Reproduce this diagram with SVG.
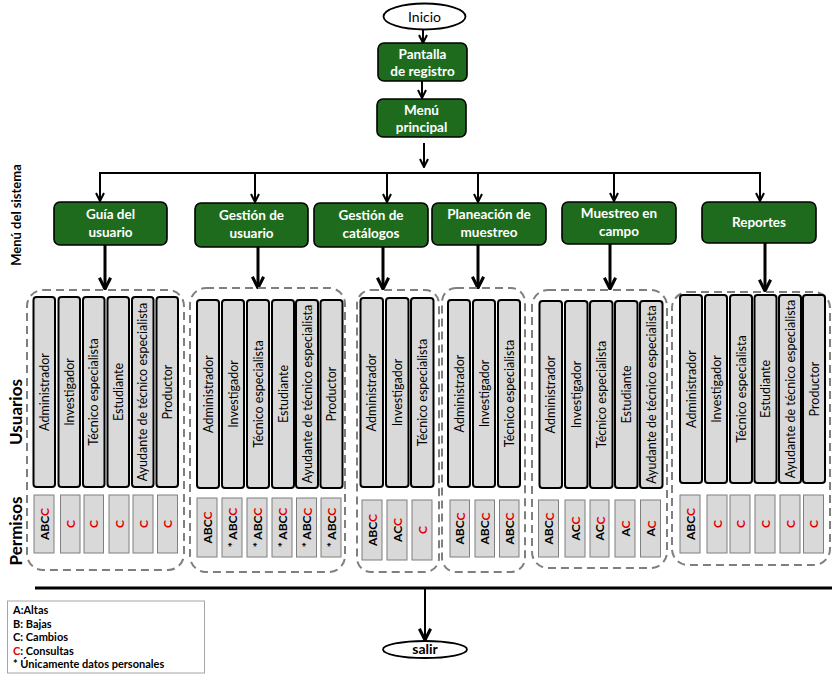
<svg xmlns="http://www.w3.org/2000/svg" width="835" height="680" viewBox="0 0 835 680">
<style>
.bg{fill:#ffffff}
.node rect{fill:#1e6b1e;stroke:#000;stroke-width:1.6}
.nt{font-family:Lato,"Liberation Sans",sans-serif;font-weight:bold;font-size:13.5px;fill:#ffffff;text-anchor:middle}
.term{fill:#fff;stroke:#000;stroke-width:1.8}
.tt{font-family:Lato,"Liberation Sans",sans-serif;font-size:14px;fill:#000;text-anchor:middle}
.grp{fill:none;stroke:#7f7f7f;stroke-width:2;stroke-dasharray:8 5}
.col{fill:#d9d9d9;stroke:#000;stroke-width:2}
.ct{font-family:Lato,"Liberation Sans",sans-serif;font-size:12.5px;fill:#000;text-anchor:middle;dominant-baseline:central}
.perm{fill:#d9d9d9;stroke:#7f7f7f;stroke-width:1}
.pt{font-family:Lato,"Liberation Sans",sans-serif;font-weight:bold;font-size:12px;fill:#000;text-anchor:middle;dominant-baseline:central}
.r{fill:#e00000}
.side{font-family:Lato,"Liberation Sans",sans-serif;font-weight:bold;fill:#000;text-anchor:middle;dominant-baseline:central}
.thin{fill:none;stroke:#000;stroke-width:2}
.thick{fill:none;stroke:#000;stroke-width:3}
.leg{font-family:Lato,"Liberation Sans",sans-serif;font-weight:bold;font-size:11px;fill:#000}
</style>
<defs>
<marker id="ah" viewBox="0 0 10 10" refX="9" refY="5" markerWidth="10" markerHeight="10" markerUnits="userSpaceOnUse" orient="auto">
<path d="M1,1 L9,5 L1,9" fill="none" stroke="#000" stroke-width="2"/>
</marker>
<marker id="ahb" viewBox="0 0 10 10" refX="9" refY="5" markerWidth="14" markerHeight="14" markerUnits="userSpaceOnUse" orient="auto">
<path d="M1,1 L9,5 L1,9" fill="none" stroke="#000" stroke-width="2.2"/>
</marker>
</defs>
<rect class="bg" x="0" y="0" width="835" height="680"/>

<g id="connectors">
<line class="thin" x1="423" y1="30" x2="423" y2="43" marker-end="url(#ah)"/>
<line class="thin" x1="422" y1="81" x2="422" y2="98" marker-end="url(#ah)"/>
<line class="thin" x1="424" y1="143" x2="424" y2="167" marker-end="url(#ah)"/>
<polyline class="thin" points="100,201 100,173 760,173 760,201" marker-end="url(#ah)"/>
<line class="thin" x1="100" y1="173" x2="100" y2="201" marker-end="url(#ah)"/>
<line class="thin" x1="255" y1="173" x2="255" y2="202" marker-end="url(#ah)"/>
<line class="thin" x1="387" y1="173" x2="387" y2="202" marker-end="url(#ah)"/>
<line class="thin" x1="478" y1="173" x2="478" y2="202" marker-end="url(#ah)"/>
<line class="thin" x1="614" y1="173" x2="614" y2="201" marker-end="url(#ah)"/>
<line class="thick" x1="105" y1="245" x2="105" y2="289" marker-end="url(#ahb)"/>
<line class="thick" x1="258" y1="247" x2="258" y2="288" marker-end="url(#ahb)"/>
<line class="thick" x1="383" y1="247" x2="383" y2="289" marker-end="url(#ahb)"/>
<line class="thick" x1="478" y1="245" x2="478" y2="288" marker-end="url(#ahb)"/>
<line class="thick" x1="610" y1="244" x2="610" y2="289" marker-end="url(#ahb)"/>
<line class="thick" x1="765" y1="243" x2="765" y2="291" marker-end="url(#ahb)"/>
<line class="thick" x1="35" y1="588" x2="832" y2="588"/>
<line class="thin" x1="425" y1="588" x2="425" y2="640" marker-end="url(#ahb)"/>
</g>

<g id="inicio">
<ellipse class="term" cx="424.5" cy="16.5" rx="41" ry="13"/>
<text class="tt" x="424.5" y="21.5">Inicio</text>
</g>
<g id="pantalla" class="node">
<rect x="378" y="43" width="89" height="38" rx="6"/>
<text class="nt" x="422.5" y="58.5">Pantalla</text>
<text class="nt" x="422.5" y="75.5">de registro</text>
</g>
<g id="menu" class="node">
<rect x="377" y="99" width="89" height="38" rx="6"/>
<text class="nt" x="421.5" y="114.5">Menú</text>
<text class="nt" x="421.5" y="131.5">principal</text>
</g>

<g id="guia" class="node">
<rect x="54" y="202" width="113" height="43" rx="6"/>
<text class="nt" x="110.5" y="219">Guía del</text>
<text class="nt" x="110.5" y="237">usuario</text>
</g>
<g id="gestion-usuario" class="node">
<rect x="195" y="203" width="113" height="44" rx="6"/>
<text class="nt" x="251.5" y="220">Gestión de</text>
<text class="nt" x="251.5" y="238">usuario</text>
</g>
<g id="gestion-catalogos" class="node">
<rect x="314" y="203" width="114" height="44" rx="6"/>
<text class="nt" x="371" y="220">Gestión de</text>
<text class="nt" x="371" y="238">catálogos</text>
</g>
<g id="planeacion" class="node">
<rect x="432" y="203" width="114" height="42" rx="6"/>
<text class="nt" x="489" y="219">Planeación de</text>
<text class="nt" x="489" y="237">muestreo</text>
</g>
<g id="muestreo" class="node">
<rect x="562" y="202" width="114" height="42" rx="6"/>
<text class="nt" x="619" y="218">Muestreo en</text>
<text class="nt" x="619" y="236">campo</text>
</g>
<g id="reportes" class="node">
<rect x="702" y="202" width="114" height="41" rx="6"/>
<text class="nt" x="759" y="227">Reportes</text>
</g>

<g id="labels">
<text class="side" font-size="13" transform="translate(16,215) rotate(-90)">Menú del sistema</text>
<text class="side" font-size="17" transform="translate(15,412) rotate(-90)">Usuarios</text>
<text class="side" font-size="17" transform="translate(15,531) rotate(-90)">Permisos</text>
</g>

<g id="grupo-guia">
<rect class="grp" x="27" y="290" width="157" height="280" rx="16"/>
<rect class="col" x="33.5" y="297" width="21.5" height="190" rx="3"/>
<rect class="col" x="58.5" y="297" width="21.5" height="190" rx="3"/>
<rect class="col" x="83" y="297" width="21.5" height="190" rx="3"/>
<rect class="col" x="107.5" y="297" width="21.5" height="190" rx="3"/>
<rect class="col" x="132" y="297" width="21.5" height="190" rx="3"/>
<rect class="col" x="156.5" y="297" width="21.5" height="190" rx="3"/>
<text class="ct" transform="translate(44.25,392) rotate(-90)">Administrador</text>
<text class="ct" transform="translate(69.25,392) rotate(-90)">Investigador</text>
<text class="ct" transform="translate(93.75,392) rotate(-90)">Técnico especialista</text>
<text class="ct" transform="translate(118.25,392) rotate(-90)">Estudiante</text>
<text class="ct" transform="translate(142.75,392) rotate(-90)">Ayudante de técnico especialista</text>
<text class="ct" transform="translate(167.25,392) rotate(-90)">Productor</text>
<rect class="perm" x="34" y="495" width="20" height="58"/>
<rect class="perm" x="60.5" y="495" width="19.5" height="58"/>
<rect class="perm" x="84" y="495" width="19.5" height="58"/>
<rect class="perm" x="109" y="495" width="20" height="58"/>
<rect class="perm" x="133" y="495" width="20" height="58"/>
<rect class="perm" x="157.5" y="495" width="20" height="58"/>
<text class="pt" transform="translate(44,524) rotate(-90)">ABC<tspan class="r">C</tspan></text>
<text class="pt r" transform="translate(70.25,524) rotate(-90)">C</text>
<text class="pt r" transform="translate(93.75,524) rotate(-90)">C</text>
<text class="pt r" transform="translate(119,524) rotate(-90)">C</text>
<text class="pt r" transform="translate(143,524) rotate(-90)">C</text>
<text class="pt r" transform="translate(167.5,524) rotate(-90)">C</text>
</g>

<g id="grupo-gestion-usuario">
<rect class="grp" x="190" y="288" width="155" height="284" rx="16"/>
<rect class="col" x="197" y="300" width="22" height="188" rx="3"/>
<rect class="col" x="222" y="300" width="22" height="188" rx="3"/>
<rect class="col" x="247" y="300" width="22" height="188" rx="3"/>
<rect class="col" x="272" y="300" width="22" height="188" rx="3"/>
<rect class="col" x="296" y="300" width="22" height="188" rx="3"/>
<rect class="col" x="320.5" y="300" width="22" height="188" rx="3"/>
<text class="ct" transform="translate(208,394) rotate(-90)">Administrador</text>
<text class="ct" transform="translate(233,394) rotate(-90)">Investigador</text>
<text class="ct" transform="translate(258,394) rotate(-90)">Técnico especialista</text>
<text class="ct" transform="translate(283,394) rotate(-90)">Estudiante</text>
<text class="ct" transform="translate(307,394) rotate(-90)">Ayudante de técnico especialista</text>
<text class="ct" transform="translate(331.5,394) rotate(-90)">Productor</text>
<rect class="perm" x="197" y="498" width="20" height="59"/>
<rect class="perm" x="222" y="498" width="20" height="59"/>
<rect class="perm" x="247" y="498" width="20" height="59"/>
<rect class="perm" x="272" y="498" width="20" height="59"/>
<rect class="perm" x="296.5" y="498" width="20" height="59"/>
<rect class="perm" x="321" y="498" width="20" height="59"/>
<text class="pt" transform="translate(207,527.5) rotate(-90)">ABC<tspan class="r">C</tspan></text>
<text class="pt" transform="translate(232,527.5) rotate(-90)">* ABC<tspan class="r">C</tspan></text>
<text class="pt" transform="translate(257,527.5) rotate(-90)">* ABC<tspan class="r">C</tspan></text>
<text class="pt" transform="translate(282,527.5) rotate(-90)">* ABC<tspan class="r">C</tspan></text>
<text class="pt" transform="translate(306.5,527.5) rotate(-90)">* ABC<tspan class="r">C</tspan></text>
<text class="pt" transform="translate(331,527.5) rotate(-90)">* ABC<tspan class="r">C</tspan></text>
</g>

<g id="grupo-gestion-catalogos">
<rect class="grp" x="357" y="290" width="82" height="282" rx="14"/>
<rect class="col" x="360.5" y="298" width="22.5" height="189" rx="3"/>
<rect class="col" x="386" y="298" width="22.5" height="189" rx="3"/>
<rect class="col" x="411" y="298" width="22.5" height="189" rx="3"/>
<text class="ct" transform="translate(371.75,392.5) rotate(-90)">Administrador</text>
<text class="ct" transform="translate(397.25,392.5) rotate(-90)">Investigador</text>
<text class="ct" transform="translate(422.25,392.5) rotate(-90)">Técnico especialista</text>
<rect class="perm" x="362" y="500" width="20" height="60"/>
<rect class="perm" x="387" y="500" width="20" height="60"/>
<rect class="perm" x="412" y="500" width="20" height="60"/>
<text class="pt" transform="translate(372,530) rotate(-90)">ABC<tspan class="r">C</tspan></text>
<text class="pt" transform="translate(397,530) rotate(-90)">AC<tspan class="r">C</tspan></text>
<text class="pt r" transform="translate(422,530) rotate(-90)">C</text>
</g>

<g id="grupo-planeacion">
<rect class="grp" x="442" y="288" width="83" height="284" rx="14"/>
<rect class="col" x="448" y="300" width="22" height="187" rx="3"/>
<rect class="col" x="473" y="300" width="22" height="187" rx="3"/>
<rect class="col" x="498" y="300" width="22" height="187" rx="3"/>
<text class="ct" transform="translate(459,393.5) rotate(-90)">Administrador</text>
<text class="ct" transform="translate(484,393.5) rotate(-90)">Investigador</text>
<text class="ct" transform="translate(509,393.5) rotate(-90)">Técnico especialista</text>
<rect class="perm" x="450" y="500" width="19.5" height="57"/>
<rect class="perm" x="475" y="500" width="19.5" height="57"/>
<rect class="perm" x="499.5" y="500" width="19.5" height="57"/>
<text class="pt" transform="translate(459.75,528.5) rotate(-90)">ABC<tspan class="r">C</tspan></text>
<text class="pt" transform="translate(484.75,528.5) rotate(-90)">ABC<tspan class="r">C</tspan></text>
<text class="pt" transform="translate(509.25,528.5) rotate(-90)">ABC<tspan class="r">C</tspan></text>
</g>

<g id="grupo-muestreo">
<rect class="grp" x="532" y="290" width="135" height="278" rx="16"/>
<rect class="col" x="539.5" y="301" width="22.5" height="187" rx="3"/>
<rect class="col" x="565" y="301" width="22.5" height="187" rx="3"/>
<rect class="col" x="590" y="301" width="22.5" height="187" rx="3"/>
<rect class="col" x="615" y="301" width="22.5" height="187" rx="3"/>
<rect class="col" x="640" y="301" width="22.5" height="187" rx="3"/>
<text class="ct" transform="translate(550.75,394.5) rotate(-90)">Administrador</text>
<text class="ct" transform="translate(576.25,394.5) rotate(-90)">Investigador</text>
<text class="ct" transform="translate(601.25,394.5) rotate(-90)">Técnico especialista</text>
<text class="ct" transform="translate(626.25,394.5) rotate(-90)">Estudiante</text>
<text class="ct" transform="translate(651.25,394.5) rotate(-90)">Ayudante de técnico especialista</text>
<rect class="perm" x="538.5" y="500" width="20" height="57"/>
<rect class="perm" x="565" y="500" width="20" height="57"/>
<rect class="perm" x="590" y="500" width="19" height="57"/>
<rect class="perm" x="615" y="500" width="20" height="57"/>
<rect class="perm" x="640.5" y="500" width="20" height="57"/>
<text class="pt" transform="translate(548.5,528.5) rotate(-90)">ABC<tspan class="r">C</tspan></text>
<text class="pt" transform="translate(575,528.5) rotate(-90)">AC<tspan class="r">C</tspan></text>
<text class="pt" transform="translate(599.5,528.5) rotate(-90)">AC<tspan class="r">C</tspan></text>
<text class="pt" transform="translate(625,528.5) rotate(-90)">A<tspan class="r">C</tspan></text>
<text class="pt" transform="translate(650.5,528.5) rotate(-90)">A<tspan class="r">C</tspan></text>
</g>

<g id="grupo-reportes">
<rect class="grp" x="672" y="292" width="158" height="273" rx="16"/>
<rect class="col" x="680" y="295" width="22" height="188" rx="3"/>
<rect class="col" x="705" y="295" width="22" height="188" rx="3"/>
<rect class="col" x="730" y="295" width="22" height="188" rx="3"/>
<rect class="col" x="754.5" y="295" width="22" height="188" rx="3"/>
<rect class="col" x="779" y="295" width="22" height="188" rx="3"/>
<rect class="col" x="803" y="295" width="22" height="188" rx="3"/>
<text class="ct" transform="translate(691,389) rotate(-90)">Administrador</text>
<text class="ct" transform="translate(716,389) rotate(-90)">Investigador</text>
<text class="ct" transform="translate(741,389) rotate(-90)">Técnico especialista</text>
<text class="ct" transform="translate(765.5,389) rotate(-90)">Estudiante</text>
<text class="ct" transform="translate(790,389) rotate(-90)">Ayudante de técnico especialista</text>
<text class="ct" transform="translate(814,389) rotate(-90)">Productor</text>
<rect class="perm" x="680" y="495" width="20" height="58"/>
<rect class="perm" x="707" y="495" width="20" height="58"/>
<rect class="perm" x="730" y="495" width="20" height="58"/>
<rect class="perm" x="755" y="495" width="20" height="58"/>
<rect class="perm" x="780" y="495" width="20" height="58"/>
<rect class="perm" x="803.5" y="495" width="20" height="58"/>
<text class="pt" transform="translate(690,524) rotate(-90)">ABC<tspan class="r">C</tspan></text>
<text class="pt r" transform="translate(717,524) rotate(-90)">C</text>
<text class="pt r" transform="translate(740,524) rotate(-90)">C</text>
<text class="pt r" transform="translate(765,524) rotate(-90)">C</text>
<text class="pt r" transform="translate(790,524) rotate(-90)">C</text>
<text class="pt r" transform="translate(813.5,524) rotate(-90)">C</text>
</g>

<g id="salir">
<ellipse class="term" cx="425" cy="649.5" rx="42" ry="8.5"/>
<text class="tt" x="425" y="654" font-weight="bold" font-size="13">salir</text>
</g>

<g id="leyenda">
<rect x="7.5" y="601" width="197" height="72" fill="#fff" stroke="#a6a6a6" stroke-width="1"/>
<text class="leg" x="13" y="614">A:Altas</text>
<text class="leg" x="13" y="628">B: Bajas</text>
<text class="leg" x="13" y="641">C: Cambios</text>
<text class="leg" x="13" y="655"><tspan class="r">C</tspan>: Consultas</text>
<text class="leg" x="13" y="668">* Únicamente datos personales</text>
</g>
</svg>
